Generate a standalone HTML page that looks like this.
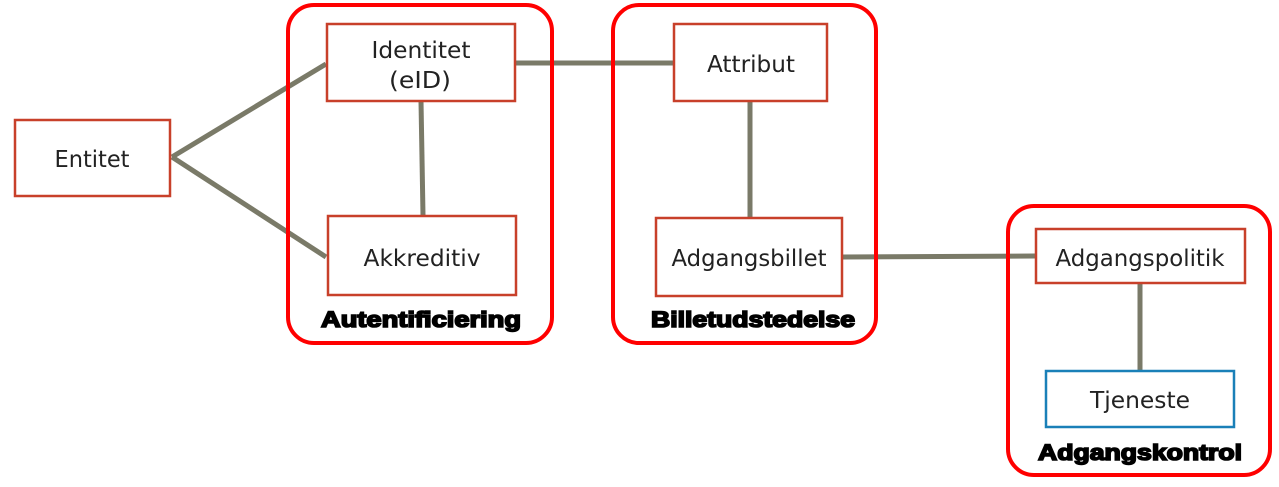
<!DOCTYPE html>
<html><head><style>body{margin:0;background:#fff}</style></head><body>
<svg width="1279" height="482" xmlns="http://www.w3.org/2000/svg" font-family="'DejaVu Sans',sans-serif">
<g stroke="#7a7a68" stroke-width="5" fill="none">
<line x1="172" y1="157" x2="326" y2="64"/>
<line x1="172" y1="157" x2="326" y2="257"/>
<line x1="421" y1="101" x2="423" y2="215"/>
<line x1="515" y1="63" x2="673" y2="63"/>
<line x1="750" y1="101" x2="750" y2="217"/>
<line x1="842" y1="257" x2="1035" y2="256"/>
<line x1="1140" y1="283" x2="1140" y2="370"/>
</g>
<g fill="none" stroke="#ff0000" stroke-width="4">
<rect x="288" y="5" width="264" height="338" rx="26"/>
<rect x="613" y="5" width="263" height="338" rx="26"/>
<rect x="1008" y="206" width="262" height="269" rx="26"/>
</g>
<g fill="#fff" stroke="#c8402a" stroke-width="2.5">
<rect x="15" y="120" width="155" height="76"/>
<rect x="327" y="24" width="188" height="77"/>
<rect x="328" y="216" width="188" height="79"/>
<rect x="674" y="24" width="153" height="77"/>
<rect x="656" y="218" width="186" height="78"/>
<rect x="1036" y="229" width="209" height="54"/>
</g>
<rect x="1046" y="371" width="188" height="56" fill="#fff" stroke="#1a80b8" stroke-width="2.5"/>
<g font-size="23.5" fill="#222" text-anchor="middle">
<text x="92" y="167" textLength="75" lengthAdjust="spacingAndGlyphs">Entitet</text>
<text x="421" y="58" textLength="99" lengthAdjust="spacingAndGlyphs">Identitet</text>
<text x="420" y="88" textLength="62" lengthAdjust="spacingAndGlyphs">(eID)</text>
<text x="422" y="266" textLength="117" lengthAdjust="spacingAndGlyphs">Akkreditiv</text>
<text x="751" y="72" textLength="88" lengthAdjust="spacingAndGlyphs">Attribut</text>
<text x="749" y="266" textLength="155" lengthAdjust="spacingAndGlyphs">Adgangsbillet</text>
<text x="1140" y="266" textLength="169" lengthAdjust="spacingAndGlyphs">Adgangspolitik</text>
<text x="1140" y="408" textLength="100" lengthAdjust="spacingAndGlyphs">Tjeneste</text>
</g>
<g font-family="'Liberation Sans',sans-serif" font-weight="bold" font-size="22" fill="#000" text-anchor="middle" stroke="#000" stroke-width="1.6">
<text x="421" y="327" textLength="200" lengthAdjust="spacingAndGlyphs">Autentificiering</text>
<text x="753" y="327" textLength="204" lengthAdjust="spacingAndGlyphs">Billetudstedelse</text>
<text x="1140" y="460" textLength="204" lengthAdjust="spacingAndGlyphs">Adgangskontrol</text>
</g>
</svg>
</body></html>
